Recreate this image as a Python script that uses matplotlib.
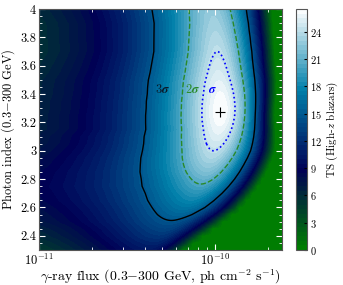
import numpy as np
import matplotlib.pyplot as plt
from matplotlib.ticker import FuncFormatter, MultipleLocator, NullFormatter

plt.rcParams["font.family"] = ["cmr10", "DejaVu Serif"]
plt.rcParams["mathtext.fontset"] = "cm"
plt.rcParams["axes.formatter.use_mathtext"] = True
plt.rcParams["axes.unicode_minus"] = False
plt.rcParams["font.size"] = 8

# profile of the TS surface, one entry per photon-index row
index_rows = [2.30, 2.35, 2.40, 2.45, 2.50, 2.55, 2.60, 2.65, 2.70, 2.75, 2.80,
              2.85, 2.90, 2.95, 3.00, 3.05, 3.10, 3.15, 3.20, 3.25, 3.30, 3.35,
              3.40, 3.45, 3.50, 3.55, 3.60, 3.65, 3.70, 3.75, 3.80, 3.85, 3.90,
              3.95, 4.00]
ts_peak = [10.3, 11.3, 12.4, 13.4, 14.5, 15.7, 16.9, 18.0, 19.0, 20.05, 21.0,
           21.95, 22.8, 23.55, 24.2, 24.8, 25.35, 25.8, 26.2, 26.45, 26.5,
           26.35, 26.1, 25.8, 25.45, 25.1, 24.8, 24.5, 24.2, 23.95, 23.7,
           23.45, 23.2, 23.0, 22.8]
flux_peak = [0.42, 0.45, 0.48, 0.52, 0.56, 0.62, 0.68, 0.73, 0.78, 0.82, 0.86,
             0.89, 0.92, 0.95, 0.98, 1.005, 1.03, 1.05, 1.065, 1.075, 1.08,
             1.075, 1.07, 1.06, 1.05, 1.045, 1.04, 1.035, 1.03, 1.02, 1.01,
             1.0, 0.99, 0.975, 0.96]  # 1e-10 ph cm-2 s-1
width_lo = [0.108, 0.112, 0.115, 0.12, 0.125, 0.13, 0.134, 0.137, 0.139, 0.139,
            0.138, 0.136, 0.134, 0.133, 0.132, 0.131, 0.131, 0.13, 0.13, 0.13,
            0.13, 0.13, 0.13, 0.13, 0.13, 0.13, 0.13, 0.13, 0.13, 0.13,
            0.13, 0.13, 0.13, 0.13, 0.13]
width_hi = [0.062, 0.071, 0.08, 0.09, 0.10, 0.106, 0.112, 0.116, 0.12, 0.124,
            0.127, 0.13, 0.132, 0.134, 0.135, 0.133, 0.13, 0.127, 0.124, 0.122,
            0.122, 0.124, 0.126, 0.128, 0.13, 0.13, 0.13, 0.13, 0.131, 0.131,
            0.132, 0.132, 0.133, 0.133, 0.134]
tail = 0.53

best_flux = 1.07e-10
best_index = 3.27
sigma_delta = [11.83, 6.18, 2.30]  # 3, 2, 1 sigma for 2 dof

flux_ticks = [1e-11, 1e-10]
flux_minor = [2e-11, 3e-11, 4e-11, 5e-11, 6e-11, 7e-11, 8e-11, 9e-11, 2e-10]

flux = np.logspace(-11, np.log10(2.4e-10), 600)
g = np.array(index_rows)
d = flux[None, :] / 1e-10 - np.array(flux_peak)[:, None]
w = np.where(d < 0, np.array(width_lo)[:, None], np.array(width_hi)[:, None])
ts = np.array(ts_peak)[:, None] - (d / w) ** 2 / (1 + np.abs(d) / tail)
ts = np.clip(ts, 0, None)
tsmax = max(ts_peak)

fig = plt.figure(figsize=(3.43, 2.85), dpi=100)
ax = fig.add_axes([0.1137, 0.1228, 0.7085, 0.8456])
cax = fig.add_axes([0.863, 0.1228, 0.032, 0.8456])

cf = ax.contourf(flux, g, ts, levels=np.linspace(0, tsmax, 54), cmap="ocean")
ax.contour(flux, g, ts, levels=[tsmax - s for s in sigma_delta],
           colors=["black", "#2a8a2a", "blue"],
           linestyles=["-", "--", ":"], linewidths=[1.0, 1.0, 1.2])
ax.plot(best_flux, best_index, "+", color="black", ms=7, mew=0.8)

ax.text(5.0e-11, 3.43, r"$\mathbf{3}\boldsymbol{\sigma}$", color="#0a1a2a",
        ha="center", va="center", fontsize=9)
ax.text(7.4e-11, 3.43, r"$\mathbf{2}\boldsymbol{\sigma}$", color="#2a8a2a",
        ha="center", va="center", fontsize=9)
ax.text(9.6e-11, 3.43, r"$\boldsymbol{\sigma}$", color="blue",
        ha="center", va="center", fontsize=9)

ax.set_xscale("log")
ax.set_xlim(1e-11, 2.4e-10)
ax.set_ylim(2.3, 4.0)
ax.set_xticks(flux_ticks)
ax.set_xticks(flux_minor, minor=True)
ax.xaxis.set_minor_formatter(NullFormatter())
ax.yaxis.set_major_locator(MultipleLocator(0.2))
ax.yaxis.set_minor_locator(MultipleLocator(0.05))
ax.yaxis.set_major_formatter(FuncFormatter(lambda v, p: "%g" % round(v, 2)))
ax.tick_params(which="both", direction="in", color="white", top=True, right=True)
ax.tick_params(which="major", length=4, width=0.8, labelsize=9, pad=2)
ax.tick_params(which="minor", length=2, width=0.6)
for sp in ax.spines.values():
    sp.set_color("#555555")

ax.set_xlabel(r"$\gamma$-ray flux (0.3$-$300 GeV, ph cm$^{-2}$ s$^{-1}$)",
              labelpad=0, fontsize=10)
ax.set_ylabel(r"Photon index (0.3$-$300 GeV)", labelpad=2, fontsize=9)

cb = fig.colorbar(cf, cax=cax, ticks=np.arange(0, 25, 3))
cb.set_label(r"TS (High-$z$ blazars)", labelpad=2)
cb.ax.tick_params(direction="in", length=2, labelsize=7.5, pad=2)
cb.outline.set_edgecolor("#555555")

fig.savefig("out.png", dpi=100)
